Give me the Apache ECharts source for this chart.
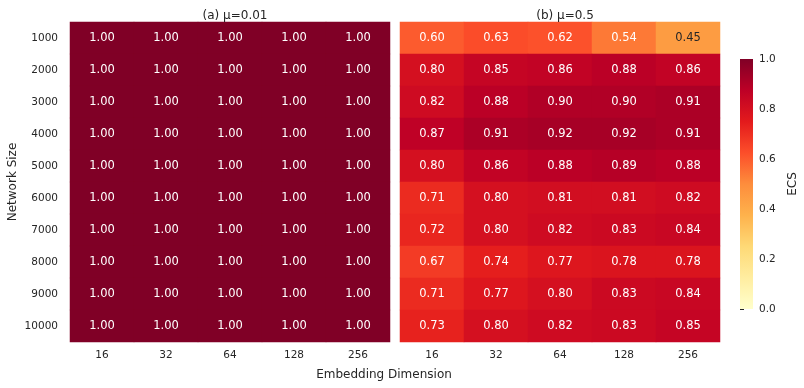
<!DOCTYPE html>
<html><head><meta charset="utf-8">
<script src="https://cdn.jsdelivr.net/npm/echarts@6/dist/echarts.min.js"></script>
<style>html,body{margin:0;padding:0;background:#fff}#c{width:804px;height:388px}</style>
</head><body><div id="c"></div>
<script>
const networkSizes = ['1000','2000','3000','4000','5000','6000','7000','8000','9000','10000'];
const embedDims = ['16','32','64','128','256'];
const panelTitles = ['(a) μ=0.01', '(b) μ=0.5'];
const ecsMu001 = [
  [1,1,1,1,1],[1,1,1,1,1],[1,1,1,1,1],[1,1,1,1,1],[1,1,1,1,1],
  [1,1,1,1,1],[1,1,1,1,1],[1,1,1,1,1],[1,1,1,1,1],[1,1,1,1,1]
];
const ecsMu05 = [
  [0.60,0.63,0.62,0.54,0.45],
  [0.80,0.85,0.86,0.88,0.86],
  [0.82,0.88,0.90,0.90,0.91],
  [0.87,0.91,0.92,0.92,0.91],
  [0.80,0.86,0.88,0.89,0.88],
  [0.71,0.80,0.81,0.81,0.82],
  [0.72,0.80,0.82,0.83,0.84],
  [0.67,0.74,0.77,0.78,0.78],
  [0.71,0.77,0.80,0.83,0.84],
  [0.73,0.80,0.82,0.83,0.85]
];
const colorbarTicks = [0,0.2,0.4,0.6,0.8,1.0];
const ylorrd = ['#ffffcc','#ffeda0','#fed976','#feb24c','#fd8d3c','#fc4e2a','#e31a1c','#bd0026','#800026'];

const FONT = 'DejaVu Sans';
function toData(m){
  const out=[];
  m.forEach((row,i)=>row.forEach((v,j)=>{
    out.push({value:[j,i,v],label:{color: v<0.5?'#262626':'#ffffff'}});
  }));
  return out;
}
const chart = echarts.init(document.getElementById('c'));
const axisCommon = {
  axisLine:{show:false}, axisTick:{show:false}, splitLine:{show:false}
};
const option = {
  backgroundColor:'#fff',
  animation:false,
  textStyle:{fontFamily:FONT},
  title:[
    {text:panelTitles[0], left:230, top:5, textAlign:'center', textStyle:{fontFamily:FONT,fontSize:12,fontWeight:'normal',color:'#262626'}},
    {text:panelTitles[1], left:560, top:5, textAlign:'center', textStyle:{fontFamily:FONT,fontSize:12,fontWeight:'normal',color:'#262626'}},
    {text:'Embedding Dimension', left:379, top:364, textAlign:'center', textStyle:{fontFamily:FONT,fontSize:12,fontWeight:'normal',color:'#262626'}}
  ],
  grid:[
    {left:70, top:22, width:320, height:320},
    {left:400, top:22, width:320, height:320},
    {left:740, top:59, width:13, height:250}
  ],
  xAxis:[
    Object.assign({type:'category', data:embedDims, gridIndex:0, axisLabel:{margin:8,fontSize:10.5,color:'#262626',fontFamily:FONT}}, axisCommon),
    Object.assign({type:'category', data:embedDims, gridIndex:1, axisLabel:{margin:8,fontSize:10.5,color:'#262626',fontFamily:FONT}}, axisCommon),
    {type:'value', gridIndex:2, min:0, max:1, show:false}
  ],
  yAxis:[
    Object.assign({type:'category', data:networkSizes, inverse:true, gridIndex:0,
      axisLabel:{margin:12,fontSize:10.5,color:'#262626',fontFamily:FONT},
      name:'Network Size', nameLocation:'middle', nameGap:51, nameRotate:90,
      nameTextStyle:{fontSize:12,color:'#262626',fontFamily:FONT}}, axisCommon),
    Object.assign({type:'category', data:networkSizes, inverse:true, gridIndex:1, axisLabel:{show:false}}, axisCommon),
    {type:'value', gridIndex:2, min:0, max:1, interval:0.2, position:'right',
      axisLine:{show:false}, splitLine:{show:false},
      axisTick:{show:true, length:4, lineStyle:{color:'#262626', width:1}},
      axisLabel:{margin:6, fontSize:10.5, color:'#262626', fontFamily:FONT, formatter:v=>v.toFixed(1)},
      name:'ECS', nameLocation:'middle', nameGap:34, nameRotate:90,
      nameTextStyle:{fontSize:12,color:'#262626',fontFamily:FONT}}
  ],
  visualMap:{type:'continuous', min:0, max:1, seriesIndex:[0,1], show:false, inRange:{color:ylorrd}},
  series:[
    {type:'heatmap', xAxisIndex:0, yAxisIndex:0, data:toData(ecsMu001),
      label:{show:true, fontSize:11.5, fontFamily:FONT, formatter:p=>p.value[2].toFixed(2)}},
    {type:'heatmap', xAxisIndex:1, yAxisIndex:1, data:toData(ecsMu05),
      label:{show:true, fontSize:11.5, fontFamily:FONT, formatter:p=>p.value[2].toFixed(2)}},
    {type:'custom', xAxisIndex:2, yAxisIndex:2, data:[[0]], silent:true,
      renderItem:function(params, api){
        const p0 = api.coord([0,0]);
        const p1 = api.coord([1,1]);
        const stops = ylorrd.map((c,i)=>({offset:i/(ylorrd.length-1), color:c}));
        return {type:'rect', shape:{x:p0[0], y:p1[1], width:p1[0]-p0[0], height:p0[1]-p1[1]},
          style:{fill:new echarts.graphic.LinearGradient(0,1,0,0,stops)}};
      }}
  ]
};
chart.setOption(option);
</script>
</body></html>
